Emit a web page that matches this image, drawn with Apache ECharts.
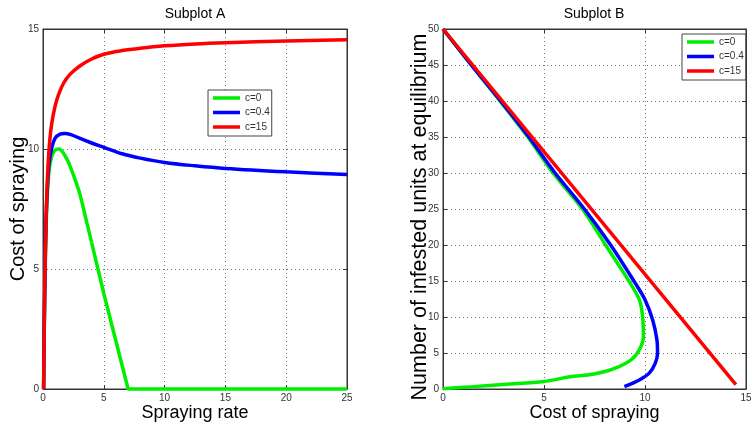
<!DOCTYPE html>
<html>
<head>
<meta charset="utf-8">
<script src="https://cdn.jsdelivr.net/npm/echarts@6/dist/echarts.min.js"></script>
<style>
html,body{margin:0;padding:0;background:#fff;}
#chart{width:751px;height:425px;}
</style>
</head>
<body>
<div id="chart"></div>
<script>
// ---------- Data ----------
const seriesNames = ['c=0', 'c=0.4', 'c=15'];

// Subplot A: spraying rate (x) vs cost of spraying (y)
// c=0 curved part (smooth) and straight falling part
const aGreenRiseRate = [0.05, 0.1, 0.17, 0.25, 0.35, 0.5, 0.7, 0.95, 1.3, 1.78, 2.19, 2.6, 3.02, 3.43, 4];
const aGreenRiseCost = [0, 2.3, 4.7, 6.6, 8.0, 9.1, 9.65, 9.93, 10.0, 9.75, 9.33, 8.78, 8.15, 7.3, 6.1];
const aGreenFallRate = [4, 5, 6, 7.0, 25];
const aGreenFallCost = [6.1, 3.98, 1.99, 0, 0];

const aBlueRate = [0.05, 0.1, 0.17, 0.25, 0.35, 0.5, 0.7, 1.0, 1.4, 1.8, 2.3, 3, 4, 5, 6.5, 8, 10, 12.5, 15, 20, 25];
const aBlueCost = [0, 2.5, 5, 7, 8.3, 9.4, 10.0, 10.45, 10.62, 10.65, 10.6, 10.45, 10.25, 10.07, 9.8, 9.62, 9.44, 9.3, 9.19, 9.05, 8.94];

const aRedRate = [0.05, 0.1, 0.17, 0.25, 0.35, 0.5, 0.7, 1.0, 1.3, 1.7, 2.2, 3, 4, 5, 6.5, 8, 10, 12.5, 15, 20, 25];
const aRedCost = [0, 2.5, 5, 7, 8.6, 10, 11, 11.8, 12.3, 12.75, 13.1, 13.45, 13.75, 13.95, 14.1, 14.2, 14.3, 14.38, 14.43, 14.5, 14.55];

// Subplot B: cost of spraying (x) vs number of infested units at equilibrium (y)
const bGreenCost = [0, 1.4, 2.82, 4.2, 5.45, 6.9, 8.05, 9.2, 9.72, 9.88, 9.92, 9.72, 9.31, 8.4, 7.41, 6.3, 5.0, 3.13, 1.48, 0];
const bGreenUnits = [50, 45, 40, 35, 30, 25, 20, 15, 12.4, 10.1, 7.3, 5.45, 4.05, 2.75, 2.05, 1.7, 1.05, 0.66, 0.33, 0.05];

const bBlueCost = [0, 1.4, 2.85, 4.25, 5.55, 7.0, 8.3, 9.45, 10.0, 10.38, 10.59, 10.62, 10.51, 10.21, 9.72, 8.98];
const bBlueUnits = [50, 45, 40, 35, 30, 25, 20, 15, 12.4, 9.6, 6.85, 5.0, 3.6, 2.2, 1.26, 0.32];

const bRedCost = [0, 14.5];
const bRedUnits = [50, 0.6];

// Tick settings
const aXTicks = {min: 0, max: 25, interval: 5};
const aYTicks = {min: 0, max: 15, interval: 5};
const bXTicks = {min: 0, max: 15, interval: 5};
const bYTicks = {min: 0, max: 50, interval: 5};

// ---------- Helpers ----------
const zip = (xs, ys) => xs.map((x, i) => [x, ys[i]]);
const colors = ['#00ee00', '#0000ff', '#ff0000'];
const tickFont = "'Liberation Sans Narrow', 'Liberation Sans', Arial, sans-serif";
const mainFont = "'Liberation Sans', Arial, sans-serif";

function mainX(grid, t, name) {
  return {
    gridIndex: grid, type: 'value', position: 'bottom',
    min: t.min, max: t.max, interval: t.interval,
    axisLine: {show: true, onZero: false, lineStyle: {color: '#333', width: 1}},
    axisTick: {show: true, inside: true, length: 4, lineStyle: {color: '#333'}},
    axisLabel: {margin: 4, fontSize: 10, color: '#333', fontFamily: tickFont},
    splitLine: {show: true, lineStyle: {type: [1, 3], color: '#777'}},
    name: name, nameLocation: 'middle', nameGap: 15, nameMoveOverlap: false,
    nameTextStyle: {fontSize: 18, color: '#000', fontFamily: mainFont}
  };
}
function mirrorX(grid, t) {
  return {
    gridIndex: grid, type: 'value', position: 'top',
    min: t.min, max: t.max, interval: t.interval,
    axisLine: {show: true, onZero: false, lineStyle: {color: '#333', width: 1}},
    axisTick: {show: true, inside: true, length: 4, lineStyle: {color: '#333'}},
    axisLabel: {show: false}, splitLine: {show: false}
  };
}
function mainY(grid, t, name, size, gap, pad) {
  return {
    gridIndex: grid, type: 'value', position: 'left',
    min: t.min, max: t.max, interval: t.interval,
    axisLine: {show: true, onZero: false, lineStyle: {color: '#333', width: 1}},
    axisTick: {show: true, inside: true, length: 4, lineStyle: {color: '#333'}},
    axisLabel: {margin: 4, fontSize: 10, color: '#333', fontFamily: tickFont},
    splitLine: {show: true, lineStyle: {type: [1, 3], color: '#777'}},
    name: name, nameLocation: 'middle', nameGap: gap, nameRotate: 90, nameMoveOverlap: false,
    nameTextStyle: {fontSize: size, color: '#000', fontFamily: mainFont, padding: pad}
  };
}
function mirrorY(grid, t) {
  return {
    gridIndex: grid, type: 'value', position: 'right',
    min: t.min, max: t.max, interval: t.interval,
    axisLine: {show: true, onZero: false, lineStyle: {color: '#333', width: 1}},
    axisTick: {show: true, inside: true, length: 4, lineStyle: {color: '#333'}},
    axisLabel: {show: false}, splitLine: {show: false}
  };
}
function line(name, data, color, xi, yi, smooth) {
  return {
    name: name, type: 'line', data: data, xAxisIndex: xi, yAxisIndex: yi,
    showSymbol: false, symbol: 'none', clip: false, animation: false,
    smooth: smooth,
    color: color, lineStyle: {color: color, width: 3.5}, itemStyle: {color: color}
  };
}
function legendAt(left, top) {
  return {
    left: left, top: top, orient: 'vertical', data: seriesNames,
    icon: 'rect', itemWidth: 27, itemHeight: 3.5, itemGap: 2.5,
    textStyle: {fontSize: 10, lineHeight: 12, color: '#333', fontFamily: tickFont},
    backgroundColor: '#fff', borderColor: '#444', borderWidth: 1,
    padding: [2, 2, 3, 5], selectedMode: false
  };
}

const chart = echarts.init(document.getElementById('chart'), null, {renderer: 'canvas'});
chart.setOption({
  animation: false,
  backgroundColor: '#fff',
  title: [
    {text: 'Subplot A', left: 195, top: 7, textAlign: 'center', padding: 0,
     textStyle: {fontSize: 14, fontWeight: 'normal', color: '#000', fontFamily: mainFont}},
    {text: 'Subplot B', left: 594, top: 7, textAlign: 'center', padding: 0,
     textStyle: {fontSize: 14, fontWeight: 'normal', color: '#000', fontFamily: mainFont}}
  ],
  legend: [legendAt(208, 90), legendAt(682, 34)],
  grid: [
    {left: 43, top: 29, width: 304, height: 360, show: true, backgroundColor: '#fff', borderColor: '#333', borderWidth: 1, outerBoundsMode: 'none', containLabel: false},
    {left: 443, top: 29, width: 303, height: 360, show: true, backgroundColor: '#fff', borderColor: '#333', borderWidth: 1, outerBoundsMode: 'none', containLabel: false}
  ],
  xAxis: [
    mainX(0, aXTicks, 'Spraying rate'),
    mirrorX(0, aXTicks),
    mainX(1, bXTicks, 'Cost of spraying'),
    mirrorX(1, bXTicks)
  ],
  yAxis: [
    mainY(0, aYTicks, 'Cost of spraying', 20, 15, [0, 0, 0, 0]),
    mirrorY(0, aYTicks),
    mainY(1, bYTicks, 'Number of infested units at equilibrium', 21.5, 12, [0, 16, 0, 0]),
    mirrorY(1, bYTicks)
  ],
  series: [
    line(seriesNames[0], zip(aGreenRiseRate, aGreenRiseCost), colors[0], 0, 0, 0.35),
    line(seriesNames[0], zip(aGreenFallRate, aGreenFallCost), colors[0], 0, 0, false),
    line(seriesNames[1], zip(aBlueRate, aBlueCost), colors[1], 0, 0, 0.35),
    line(seriesNames[2], zip(aRedRate, aRedCost), colors[2], 0, 0, 0.35),
    line(seriesNames[0], zip(bGreenCost, bGreenUnits), colors[0], 2, 2, 0.3),
    line(seriesNames[1], zip(bBlueCost, bBlueUnits), colors[1], 2, 2, 0.3),
    line(seriesNames[2], zip(bRedCost, bRedUnits), colors[2], 2, 2, false)
  ]
});
</script>
</body>
</html>
